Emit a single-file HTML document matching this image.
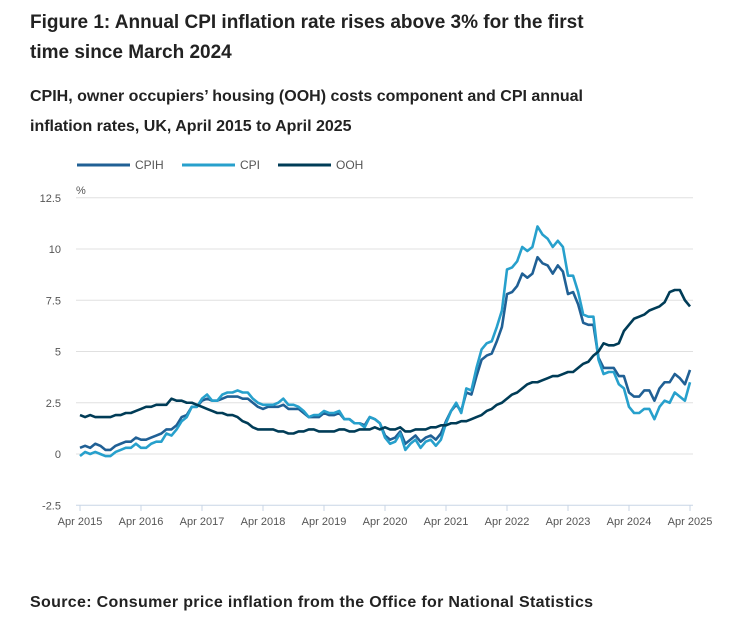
<!DOCTYPE html>
<html><head><meta charset="utf-8"><style>
body{margin:0;background:#fff;font-family:"Liberation Sans",sans-serif;}
.t{position:absolute;left:30px;font-weight:bold;color:#222;white-space:nowrap;}
</style></head><body>
<div style="position:relative;width:733px;height:625px;overflow:hidden">
<div class="t" style="top:8px;font-size:19px;line-height:30px">Figure 1: Annual CPI inflation rate rises above 3% for the first<br>time since March 2024</div>
<div class="t" style="top:82px;font-size:16px;line-height:30px">CPIH, owner occupiers’ housing (OOH) costs component and CPI annual<br>inflation rates, UK, April 2015 to April 2025</div>
<div class="t" style="top:594px;font-size:16px;letter-spacing:0.33px">Source: Consumer price inflation from the Office for National Statistics</div>
<svg id="c" width="733" height="625" style="position:absolute;left:0;top:0"></svg>
</div>
<script>
const seriesNames=["CPIH","CPI","OOH"];
const colors=["#206095","#27a0cc","#003c57"];
const yTicks=[-2.5,0,2.5,5,7.5,10,12.5];
const yTickLabels=["-2.5","0","2.5","5","7.5","10","12.5"];
const xTickLabels=["Apr 2015","Apr 2016","Apr 2017","Apr 2018","Apr 2019","Apr 2020","Apr 2021","Apr 2022","Apr 2023","Apr 2024","Apr 2025"];
const cpih=[0.3,0.4,0.3,0.5,0.4,0.2,0.2,0.4,0.5,0.6,0.6,0.8,
0.7,0.7,0.8,0.9,1.0,1.2,1.2,1.4,1.8,1.9,2.3,2.3,
2.6,2.7,2.6,2.6,2.7,2.8,2.8,2.8,2.7,2.7,2.5,2.3,
2.2,2.3,2.3,2.3,2.4,2.2,2.2,2.2,2.0,1.8,1.8,1.8,
2.0,1.9,1.9,2.0,1.7,1.7,1.5,1.5,1.4,1.8,1.7,1.5,
0.9,0.7,0.8,1.1,0.5,0.7,0.9,0.6,0.8,0.9,0.7,1.0,
1.6,2.1,2.4,2.1,3.0,2.9,3.8,4.6,4.8,4.9,5.5,6.2,
7.8,7.9,8.2,8.8,8.6,8.8,9.6,9.3,9.2,8.8,9.2,8.9,
7.8,7.9,7.3,6.4,6.3,6.3,4.7,4.2,4.2,4.2,3.8,3.8,
3.0,2.8,2.8,3.1,3.1,2.6,3.2,3.5,3.5,3.9,3.7,3.4,4.1];
const cpi=[-0.1,0.1,0.0,0.1,0.0,-0.1,-0.1,0.1,0.2,0.3,0.3,0.5,
0.3,0.3,0.5,0.6,0.6,1.0,0.9,1.2,1.6,1.8,2.3,2.3,
2.7,2.9,2.6,2.6,2.9,3.0,3.0,3.1,3.0,3.0,2.7,2.5,
2.4,2.4,2.4,2.5,2.7,2.4,2.4,2.3,2.1,1.8,1.9,1.9,
2.1,2.0,2.0,2.1,1.7,1.7,1.5,1.5,1.3,1.8,1.7,1.5,
0.8,0.5,0.6,1.0,0.2,0.5,0.7,0.3,0.6,0.7,0.4,0.7,
1.5,2.1,2.5,2.0,3.2,3.1,4.2,5.1,5.4,5.5,6.2,7.0,
9.0,9.1,9.4,10.1,9.9,10.1,11.1,10.7,10.5,10.1,10.4,10.1,
8.7,8.7,7.9,6.8,6.7,6.7,4.6,3.9,4.0,4.0,3.4,3.2,
2.3,2.0,2.0,2.2,2.2,1.7,2.3,2.6,2.5,3.0,2.8,2.6,3.5];
const ooh=[1.9,1.8,1.9,1.8,1.8,1.8,1.8,1.9,1.9,2.0,2.0,2.1,
2.2,2.3,2.3,2.4,2.4,2.4,2.7,2.6,2.6,2.5,2.5,2.4,
2.3,2.2,2.1,2.0,2.0,1.9,1.9,1.8,1.6,1.5,1.3,1.2,
1.2,1.2,1.2,1.1,1.1,1.0,1.0,1.1,1.1,1.2,1.2,1.1,
1.1,1.1,1.1,1.2,1.2,1.1,1.1,1.2,1.2,1.2,1.3,1.2,
1.3,1.2,1.2,1.3,1.1,1.1,1.2,1.2,1.2,1.3,1.3,1.4,
1.4,1.5,1.5,1.6,1.6,1.7,1.8,1.9,2.1,2.2,2.4,2.5,
2.7,2.9,3.0,3.2,3.4,3.5,3.5,3.6,3.7,3.8,3.8,3.9,
4.0,4.0,4.2,4.4,4.5,4.8,5.0,5.4,5.3,5.3,5.4,6.0,
6.3,6.6,6.7,6.8,7.0,7.1,7.2,7.4,7.9,8.0,8.0,7.5,7.2,6.9].slice(0,121);
const data=[cpih,cpi,ooh];
const NS="http://www.w3.org/2000/svg",svg=document.getElementById("c");
const x0=80,x1=690,yZero=454,pxPerUnit=20.5;
const X=i=>x0+(x1-x0)*i/120;
const Y=v=>yZero-v*pxPerUnit;
function mk(t,a){const e=document.createElementNS(NS,t);for(const k in a)e.setAttribute(k,a[k]);svg.appendChild(e);return e;}
yTicks.forEach((v,i)=>{
 const g=mk("line",{x1:76,x2:693,y1:Y(v),y2:Y(v),stroke:v===-2.5?"#c8d6e6":"#e0e0e0","stroke-width":1});
 
 
 const t=mk("text",{x:61,y:Y(v)+4,"text-anchor":"end","font-size":11,fill:"#555"});
 t.textContent=yTickLabels[i];
 
 
});
const pc=mk("text",{x:76,y:194,"font-size":11,fill:"#555"});pc.textContent="%";


xTickLabels.forEach((l,i)=>{
 const x=X(i*12);
 const tk=mk("line",{x1:x,x2:x,y1:505,y2:511,stroke:"#c8d6e6"});
 
 
 const t=mk("text",{x:x,y:525,"text-anchor":"middle","font-size":11,fill:"#555"});
 t.textContent=l;
 
 
});
data.forEach((d,s)=>{
 const p=mk("polyline",{points:d.map((v,i)=>X(i)+","+Y(v)).join(" "),fill:"none",stroke:colors[s],"stroke-width":2.6,"stroke-linejoin":"round"});
 
 
});
const legX=[77,182,278];
seriesNames.forEach((n,s)=>{
 const l=mk("line",{x1:legX[s],x2:legX[s]+53,y1:165,y2:165,stroke:colors[s],"stroke-width":3});
 
 
 const t=mk("text",{x:legX[s]+58,y:169,"font-size":12,fill:"#555"});
 t.textContent=n;
 
 
});
</script>
</body></html>
